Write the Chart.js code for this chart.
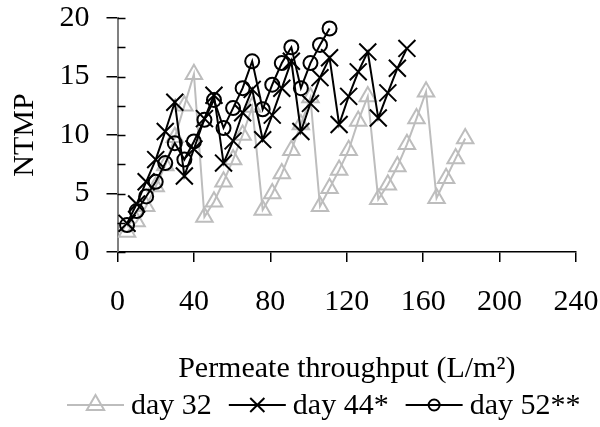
<!DOCTYPE html>
<html>
<head>
<meta charset="utf-8">
<title>NTMP vs permeate throughput</title>
<script src="https://cdn.jsdelivr.net/npm/chart.js@4.4.1/dist/chart.umd.min.js"></script>
<style>
  body { margin: 0; background: #fff; }
  #wrap { width: 600px; height: 427px; position: relative; }
</style>
</head>
<body>
<div id="wrap"><canvas id="chart"></canvas></div>
<script>
// permeate throughput at each reading (L/m2), shared by the three runs
const throughput = [5, 10, 15, 20, 25, 30, 35, 40, 45.5, 50.5, 55.5, 60.5, 65.5, 70.5,
    76, 81, 86, 91, 96, 101, 106, 111, 116, 121, 126, 131,
    136.5, 141.5, 146.5, 151.5, 156.5, 161.5, 167, 172, 177, 182]

// normalised TMP, one list per run (each backwash shows as a drop)
const ntmpDay32 = [1.7, 2.6, 3.9, 5.6, 7.4, 9.8, 12.5, 15.2,
    3.0, 4.3, 6.0, 7.9, 10.0, 12.4,
    3.6, 5.0, 6.7, 8.7, 10.9, 13.2,
    3.9, 5.45, 7.0, 8.7, 11.2, 13.3,
    4.5, 5.75, 7.3, 9.2, 11.4, 13.7,
    4.6, 6.3, 8.0, 9.7]
const ntmpDay44 = [2.45, 4.1, 6.0, 7.9, 10.3, 12.8,
    6.5, 8.8, 11.4, 13.4,
    7.6, 9.5, 11.9, 13.9,
    9.6, 11.7, 14.0, 16.3,
    10.3, 12.7, 14.9, 16.6,
    10.9, 13.3, 15.4, 17.1,
    11.45, 13.6, 15.7, 17.4]
const ntmpDay52 = [2.3, 3.5, 4.75, 6.0, 7.6, 9.3,
    7.9, 9.45, 11.3, 13.0,
    10.6, 12.3, 14.0, 16.3,
    12.2, 14.3, 16.15, 17.5,
    14.0, 16.15, 17.7, 19.1]

const seriesNames = ['day 32', 'day 44*', 'day 52**']
const xTicks = [0, 40, 80, 120, 160, 200, 240]
const yTicks = [0, 5, 10, 15, 20]
const yMinorStep = 2.5

const FONT = 'Liberation Serif'
const GREY = '#bdbdbd'

function toPoints(values) {
    return values.map((v, i) => ({ x: throughput[i], y: v }))
}

// small inward tick marks on the y axis (Excel style "cross" ticks)
const innerTicks = {
    id: 'innerTicks',
    beforeDatasetsDraw(chart) {
        const ctx = chart.ctx
        const y = chart.scales.y
        const left = chart.chartArea.left
        ctx.save()
        ctx.strokeStyle = '#000'
        ctx.lineWidth = 1.5
        for (let v = y.min; v <= y.max; v += yMinorStep) {
            const py = Math.round(y.getPixelForValue(v)) + 0.5
            ctx.beginPath()
            ctx.moveTo(left, py)
            ctx.lineTo(left + 8, py)
            ctx.stroke()
        }
        ctx.restore()
    }
}

// legend under the axis title: line + marker, then the label
const bottomLegend = {
    id: 'bottomLegend',
    afterDraw(chart) {
        const ctx = chart.ctx
        const cy = 405
        let x = 67
        ctx.save()
        ctx.font = '30px "' + FONT + '"'
        ctx.textBaseline = 'middle'
        ctx.textAlign = 'left'
        chart.data.datasets.forEach(ds => {
            const lineLen = 57
            ctx.strokeStyle = ds.borderColor
            ctx.lineWidth = ds.borderWidth
            ctx.beginPath()
            ctx.moveTo(x, cy)
            ctx.lineTo(x + lineLen, cy)
            ctx.stroke()
            ctx.fillStyle = 'rgba(0,0,0,0)'
            ctx.strokeStyle = ds.pointBorderColor
            ctx.lineWidth = ds.pointBorderWidth
            Chart.helpers.drawPoint(ctx, {
                pointStyle: ds.pointStyle,
                radius: ds.legendRadius,
                rotation: 0,
                borderWidth: ds.pointBorderWidth
            }, x + lineLen / 2, cy)
            ctx.fillStyle = '#000'
            ctx.fillText(ds.label, x + lineLen + 7, cy + 1)
            x += lineLen + 7 + ctx.measureText(ds.label).width + 17
        })
        ctx.restore()
    }
}

const ctx = document.getElementById('chart').getContext('2d')
const chart = new Chart(ctx, {
    type: 'line',
    data: {
        datasets: [
            {
                label: seriesNames[0],
                data: toPoints(ntmpDay32),
                borderColor: GREY,
                borderWidth: 2,
                pointStyle: 'triangle',
                pointRadius: 9.5,
                legendRadius: 10,
                pointBorderColor: GREY,
                pointBorderWidth: 2,
                pointBackgroundColor: 'rgba(0,0,0,0)',
                order: 2
            },
            {
                label: seriesNames[1],
                data: toPoints(ntmpDay44),
                borderColor: '#000',
                borderWidth: 2,
                pointStyle: 'crossRot',
                pointRadius: 12,
                legendRadius: 10,
                pointBorderColor: '#000',
                pointBorderWidth: 2,
                pointBackgroundColor: 'rgba(0,0,0,0)',
                order: 1
            },
            {
                label: seriesNames[2],
                data: toPoints(ntmpDay52),
                borderColor: '#000',
                borderWidth: 2,
                pointStyle: 'circle',
                pointRadius: 7,
                legendRadius: 5.5,
                pointBorderColor: '#000',
                pointBorderWidth: 2,
                pointBackgroundColor: 'rgba(0,0,0,0)',
                order: 0
            }
        ]
    },
    options: {
        responsive: true,
        maintainAspectRatio: false,
        animation: false,
        layout: { padding: { left: 0, right: 24, top: 18, bottom: 42 } },
        plugins: { legend: { display: false }, tooltip: { enabled: false } },
        elements: { line: { tension: 0 } },
        scales: {
            x: {
                type: 'linear',
                min: xTicks[0],
                max: xTicks[xTicks.length - 1],
                ticks: {
                    stepSize: xTicks[1] - xTicks[0],
                    color: '#000',
                    font: { family: FONT, size: 30 },
                    padding: 22,
                    maxRotation: 0
                },
                grid: { drawOnChartArea: false, drawTicks: true, tickLength: 10, color: '#000', lineWidth: 1.5 },
                border: { color: '#000', width: 1.5 },
                title: {
                    display: true,
                    text: 'Permeate throughput (L/m²)',
                    color: '#000',
                    font: { family: FONT, size: 30 },
                    padding: { top: 0, bottom: -2 }
                },
                afterFit: s => {
                    s.height = 133
                    s.paddingLeft = 0
                    s.paddingRight = 0
                }
            },
            y: {
                min: yTicks[0],
                max: yTicks[yTicks.length - 1],
                ticks: {
                    stepSize: yTicks[1] - yTicks[0],
                    color: '#000',
                    font: { family: FONT, size: 30 },
                    padding: 17
                },
                grid: { drawOnChartArea: false, drawTicks: true, tickLength: 11, color: '#000', lineWidth: 1.5 },
                border: { color: '#808080', width: 2 },
                title: {
                    display: true,
                    text: 'NTMP',
                    color: '#000',
                    font: { family: FONT, size: 30 },
                    padding: { top: 7, bottom: 0 }
                },
                afterFit: s => {
                    s.width = 117.5
                    s.paddingTop = 0
                    s.paddingBottom = 0
                }
            }
        }
    },
    plugins: [innerTicks, bottomLegend]
})
</script>
</body>
</html>
